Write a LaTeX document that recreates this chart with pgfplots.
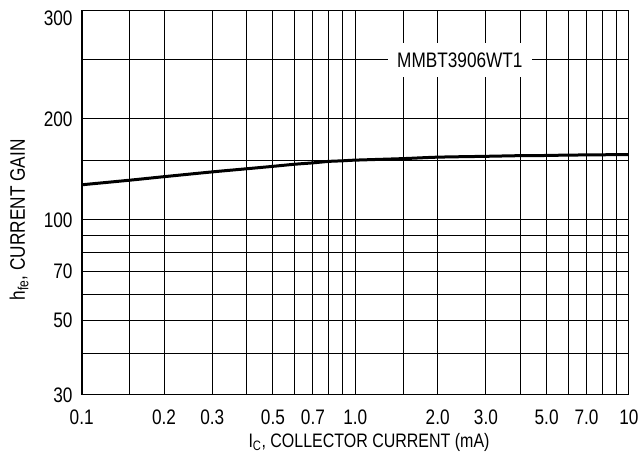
\documentclass[border=0pt]{standalone}
\usepackage{pgfplots}
\pgfplotsset{compat=1.18}
\usepackage{fontspec}
\setmainfont{Liberation Sans}[FakeStretch=0.82]
\newcommand\fs{\fontsize{21}{24}\selectfont}
\newcommand\fsx{\fontsize{19.5}{23}\selectfont}

\begin{document}
\begin{tikzpicture}
\begin{axis}[
  at={(0,0)}, anchor=south west,
  scale only axis, width=547.3pt, height=384pt,
  xmode=log, ymode=log,
  xmin=0.1, xmax=10, ymin=30, ymax=420,
  xtick={0.1,0.2,0.3,0.5,0.7,1,2,3,5,7,10},
  xticklabels={0.1,0.2,0.3,0.5,0.7,1.0,2.0,3.0,5.0,7.0,10},
  minor xtick={0.15,0.4,0.6,0.8,0.9,1.5,4,6,8,9},
  ytick={30,50,70,100,200},
  yticklabels={30,50,70,100,200},
  minor ytick={40,60,80,90,150,300},
  extra y ticks={400}, extra y tick labels={300},
  extra y tick style={grid=none},
  grid=both,
  major grid style={black, line width=1pt},
  minor grid style={black, line width=1pt},
  major tick length=0pt, minor tick length=0pt,
  axis line style={black, line width=1pt},
  tick label style={font=\fs, inner sep=0pt},
  xticklabel style={anchor=north, yshift=-15pt},
  yticklabel style={anchor=east, xshift=-9pt},
  xlabel={I\textsubscript{C}, COLLECTOR CURRENT (mA)},
  ylabel={h\textsubscript{fe}, CURRENT GAIN},
  label style={inner sep=0pt},
  x label style={font=\fsx, at={(axis description cs:0.525,0)}, anchor=north, yshift=-38pt},
  y label style={font=\fs, at={(axis description cs:-0.1036,0.456)}, anchor=base},
]
% h_FE vs I_C
\addplot[black, line width=3pt, smooth] coordinates {
  (0.1,127.2) (0.15,131.3) (0.2,134.5) (0.3,139.0) (0.4,142.0)
  (0.5,144.4) (0.6,146.5) (0.7,147.9) (0.8,149.4) (0.9,150.0)
  (1.0,150.7) (1.5,152.3) (2.0,153.8) (3.0,154.7) (4.0,155.4)
  (5.0,155.6) (6.0,156.0) (10,156.6)
};
\node[fill=white, font=\fs, inner xsep=9pt, inner ysep=9.5pt] at (axis cs:2.41,300) {MMBT3906WT1};
\draw[line width=2.2pt, line join=miter] (rel axis cs:0,1) -- (rel axis cs:0,0) -- (rel axis cs:1,0);
\end{axis}
\pgfresetboundingbox
\path[use as bounding box] (-81.7pt,-66pt) rectangle (559.3pt,395pt);
\end{tikzpicture}
\end{document}
